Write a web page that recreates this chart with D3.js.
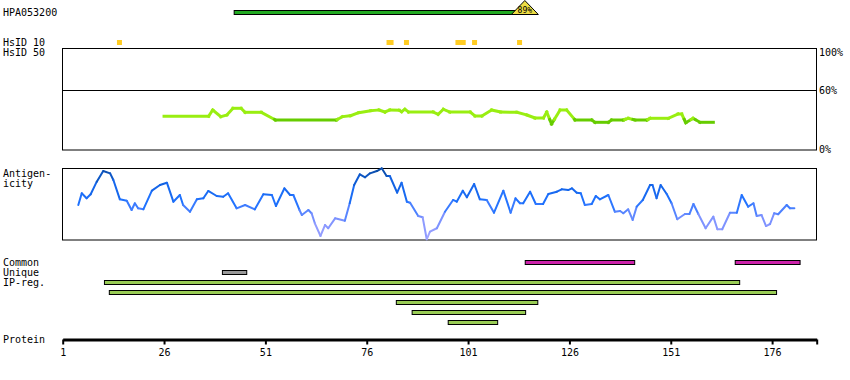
<!DOCTYPE html>
<html><head><meta charset="utf-8">
<script src="https://cdn.jsdelivr.net/npm/d3@7"></script>
<style>
body{margin:0;background:#fff}
text{font-family:"DejaVu Sans Mono",monospace;font-size:10px;fill:#000}
</style>
</head><body><svg id="c" width="850" height="380"></svg>
<script>
// ---------- data ----------
const proteinLength = 187;
const axisTicks = [1, 26, 51, 76, 101, 126, 151, 176];

const antibodyName = "HPA053200";
const antibodyStart = 43.3, antibodyEnd = 115;
const antibodyIdentity = "89%";

const hs10Start = [15, 81.5, 85.8, 98.5, 102.6, 113.7];
const hs10End   = [15, 82,   85.8, 99.8, 102.6, 113.7];

const simTicks = ["100%", "60%", "0%"];
const simTickValues = [100, 60, 0];
const simThreshold = 30.5;
const simResidue = [26,37,38,40,41.5,43,45,46,50,53.5,68.5,70,72,74,77,79,80.5,81.7,84,84.6,85.4,86.3,92.4,93.6,94.9,96.5,101.5,102.7,104.4,106.8,109,113,115.5,117.5,119.6,120.4,121.6,123.7,125.3,127.4,131.5,132.3,135.6,136.4,139.3,140.5,142.2,145.1,145.9,150.4,152.8,153.7,154.7,156.5,158.2,161.5];
const simValue   = [33.7,33.7,40,33.3,35,41.7,41.7,37.7,37.7,30,30,33.3,34.3,37.3,39.3,40,38,40,39.7,38.3,40.7,38,38,35.7,40.7,38,38,34,34,40,38,37.7,35,32,32,38,26,40,40,30,30,27.7,27.7,30,30,31.7,30,30,31.7,31.7,36,36,27.3,31.7,27.7,27.7];

const agResidue = [4.85,5.7,6.9,7.9,9.4,11.0,12.7,13.5,15.1,16.8,18.0,18.8,19.6,20.9,23.0,25.0,26.7,28.3,29.9,30.7,32.4,34.1,35.7,36.9,39.0,40.6,41.8,43.9,46.0,48.4,50.5,52.6,53.6,55.7,57.1,57.9,59.4,60.0,61.6,62.4,63.2,64.6,65.7,66.5,68.2,70.6,71.8,72.9,74.3,75.6,76.8,78.5,79.7,80.9,81.7,83.5,84.6,85.9,86.7,88.7,89.8,90.8,91.6,93.3,95.3,97.3,98.2,99.7,100.7,102.5,103.9,105.6,107.4,109.7,111.5,112.7,113.8,114.6,116.3,117.7,119.5,120.8,122.9,124.1,125.7,126.6,127.8,128.8,129.8,131.5,132.5,133.5,135.6,137.2,138.5,139.3,140.5,141.6,142.6,144.1,145.9,146.5,147.5,148.5,150.0,151.2,152.6,154.5,155.6,156.6,157.8,159.6,161.5,162.5,163.7,165.6,167.3,168.5,170.1,171.4,172.2,173.4,174.5,175.5,176.5,177.5,179.6,180.4,181.5];
const agValue   = [48.6,64.9,57.9,63.5,81.0,95.8,92.6,83.3,56.5,54.6,41.7,51.0,44.0,42.6,68.5,76.4,79.6,53.2,62.5,48.6,39.3,56.5,57.9,68.1,61.1,60.1,64.9,44.0,48.6,42.6,63.5,62.5,47.2,71.8,62.5,62.5,41.7,34.7,41.7,37.1,23.2,5.6,20.8,16.3,30.1,26.8,51.0,76.4,91.3,87.1,92.6,95.8,99.6,88.9,88.9,65.7,79.6,53.2,51.8,33.3,31.5,1.0,11.5,16.3,39.3,55.6,53.2,68.5,59.3,77.8,56.5,55.6,37.9,68.5,37.9,57.9,51.0,51.0,67.1,50.0,50.0,63.9,67.1,70.4,69.4,71.8,65.7,64.9,48.6,50.0,61.1,56.5,62.5,39.3,40.3,37.1,42.6,27.8,46.3,55.6,76.4,76.4,57.9,76.4,63.9,51.0,28.8,36.1,36.1,50.0,36.1,16.3,32.4,14.9,14.9,37.9,37.9,62.5,46.3,51.0,33.3,34.7,19.4,22.2,37.1,35.7,48.6,44.0,44.0];

const commonStart = [115.1, 166.9], commonEnd = [142.1, 182.9];
const uniqueStart = [40.4], uniqueEnd = [46.4];
const ipStart = [11.3, 12.5, 83.3, 87.2, 96.1];
const ipEnd   = [168.0, 177.1, 118.2, 115.2, 108.3];

const leftLabels = [
  {t:"HPA053200", y:16}, {t:"HsID 10", y:46}, {t:"HsID 50", y:56},
  {t:"Antigen-", y:177}, {t:"icity", y:187},
  {t:"Common", y:266}, {t:"Unique", y:276}, {t:"IP-reg.", y:286},
  {t:"Protein", y:343}
];

// ---------- drawing ----------
const svg = d3.select("#c");
const x = d3.scaleLinear().domain([1, proteinLength]).range([62.7, 816.7]);

// left labels
svg.selectAll("text.lbl").data(leftLabels).join("text").attr("class","lbl")
  .attr("x", 3).attr("y", d => d.y).text(d => d.t);

// antibody bar + triangle
svg.append("rect").attr("x", x(antibodyStart)).attr("y", 10.5)
  .attr("width", x(antibodyEnd) - x(antibodyStart)).attr("height", 4)
  .attr("fill", "#22aa22").attr("stroke", "#000").attr("stroke-width", 1);
const tc = x(antibodyEnd);
svg.append("path").attr("d", `M${tc-13.5},14.5L${tc},0.5L${tc+13.5},14.5Z`)
  .attr("fill", "#eedd44").attr("stroke", "#000").attr("stroke-width", 1);
svg.append("text").attr("x", tc).attr("y", 12.5).attr("text-anchor", "middle")
  .style("font-size", "8px").text(antibodyIdentity);

// HsID 10 marks
svg.selectAll("rect.hs").data(hs10Start).join("rect").attr("class","hs")
  .attr("x", (d) => x(d) - 2.5)
  .attr("width", (d, i) => x(hs10End[i]) - x(d) + 5)
  .attr("y", 40).attr("height", 5).attr("fill", "#ffcc22");

// similarity panel
const ys = d3.scaleLinear().domain([0, 100]).range([150, 50]);
svg.append("rect").attr("x", 62.5).attr("y", 48.5).attr("width", 754).attr("height", 101.5)
  .attr("fill", "none").attr("stroke", "#000").attr("stroke-width", 1);
svg.append("line").attr("x1", 62.5).attr("x2", 816.5).attr("y1", Math.round(ys(60)) + 0.5).attr("y2", Math.round(ys(60)) + 0.5)
  .attr("stroke", "#000");
svg.selectAll("text.st").data(simTicks).join("text").attr("class","st")
  .attr("x", 819).attr("y", (d, i) => [56, 94, 153][i]).text(d => d);

// similarity line, split at threshold
const segs = [];
for (let i = 0; i < simResidue.length - 1; i++) {
  const r0 = simResidue[i], v0 = simValue[i], r1 = simResidue[i+1], v1 = simValue[i+1];
  const a0 = v0 > simThreshold, a1 = v1 > simThreshold;
  if (a0 === a1) segs.push({p:[[r0,v0],[r1,v1]], hi:a0});
  else {
    const t = (simThreshold - v0) / (v1 - v0);
    const rm = r0 + t * (r1 - r0);
    segs.push({p:[[r0,v0],[rm,simThreshold]], hi:a0});
    segs.push({p:[[rm,simThreshold],[r1,v1]], hi:a1});
  }
}
const lineS = d3.line().x(d => x(d[0])).y(d => ys(d[1]));
svg.selectAll("path.sim").data(segs).join("path").attr("class","sim")
  .attr("d", d => lineS(d.p)).attr("fill","none")
  .attr("stroke", d => d.hi ? "#99ee11" : "#66cc00")
  .attr("stroke-width", 3).attr("stroke-linecap","square");

// antigenicity panel
const ya = d3.scaleLinear().domain([0, 100]).range([240, 168]);
svg.append("rect").attr("x", 62.5).attr("y", 168.5).attr("width", 754).attr("height", 71.5)
  .attr("fill", "none").attr("stroke", "#000").attr("stroke-width", 1);
const agColor = d3.scaleLinear().domain([0, 30, 55, 80, 100])
  .range(["#a8a8ff", "#7890ff", "#1f72ff", "#1060e0", "#0a4aa0"]);
const agSegs = [];
for (let i = 0; i < agResidue.length - 1; i++)
  agSegs.push({p:[[agResidue[i], agValue[i]], [agResidue[i+1], agValue[i+1]]], v:(agValue[i]+agValue[i+1])/2});
const lineA = d3.line().x(d => x(d[0])).y(d => ya(d[1]));
svg.selectAll("path.ag").data(agSegs).join("path").attr("class","ag")
  .attr("d", d => lineA(d.p)).attr("fill","none")
  .attr("stroke", d => agColor(d.v)).attr("stroke-width", 2).attr("stroke-linecap","round");

// feature bars
function bars(starts, ends, y0, step, fill, cls) {
  svg.selectAll("rect." + cls).data(starts).join("rect").attr("class", cls)
    .attr("x", d => x(d)).attr("width", (d, i) => x(ends[i]) - x(d))
    .attr("y", (d, i) => y0 + i * step).attr("height", 4)
    .attr("fill", fill).attr("stroke", "#000").attr("stroke-width", 1);
}
bars(commonStart, commonEnd, 260.5, 0, "#cc22aa", "cm");
bars(uniqueStart, uniqueEnd, 270.5, 0, "#999999", "un");
bars(ipStart, ipEnd, 280.5, 10, "#99cc55", "ip");

// protein axis
const axis = d3.axisBottom(x).tickValues(axisTicks.concat([proteinLength]))
  .tickFormat(d => d === proteinLength ? "" : d).tickSize(5).tickSizeOuter(0).tickPadding(4);
const gA = svg.append("g").attr("transform", "translate(0,339.5)").call(axis);
gA.select(".domain").attr("stroke-width", 3).attr("stroke", "#000");
gA.selectAll(".tick line").attr("stroke-width", 2).attr("stroke", "#000");
gA.selectAll(".tick text").style("font-family", '"DejaVu Sans Mono",monospace').style("font-size", "10px").attr("fill", "#000");
</script></body></html>
